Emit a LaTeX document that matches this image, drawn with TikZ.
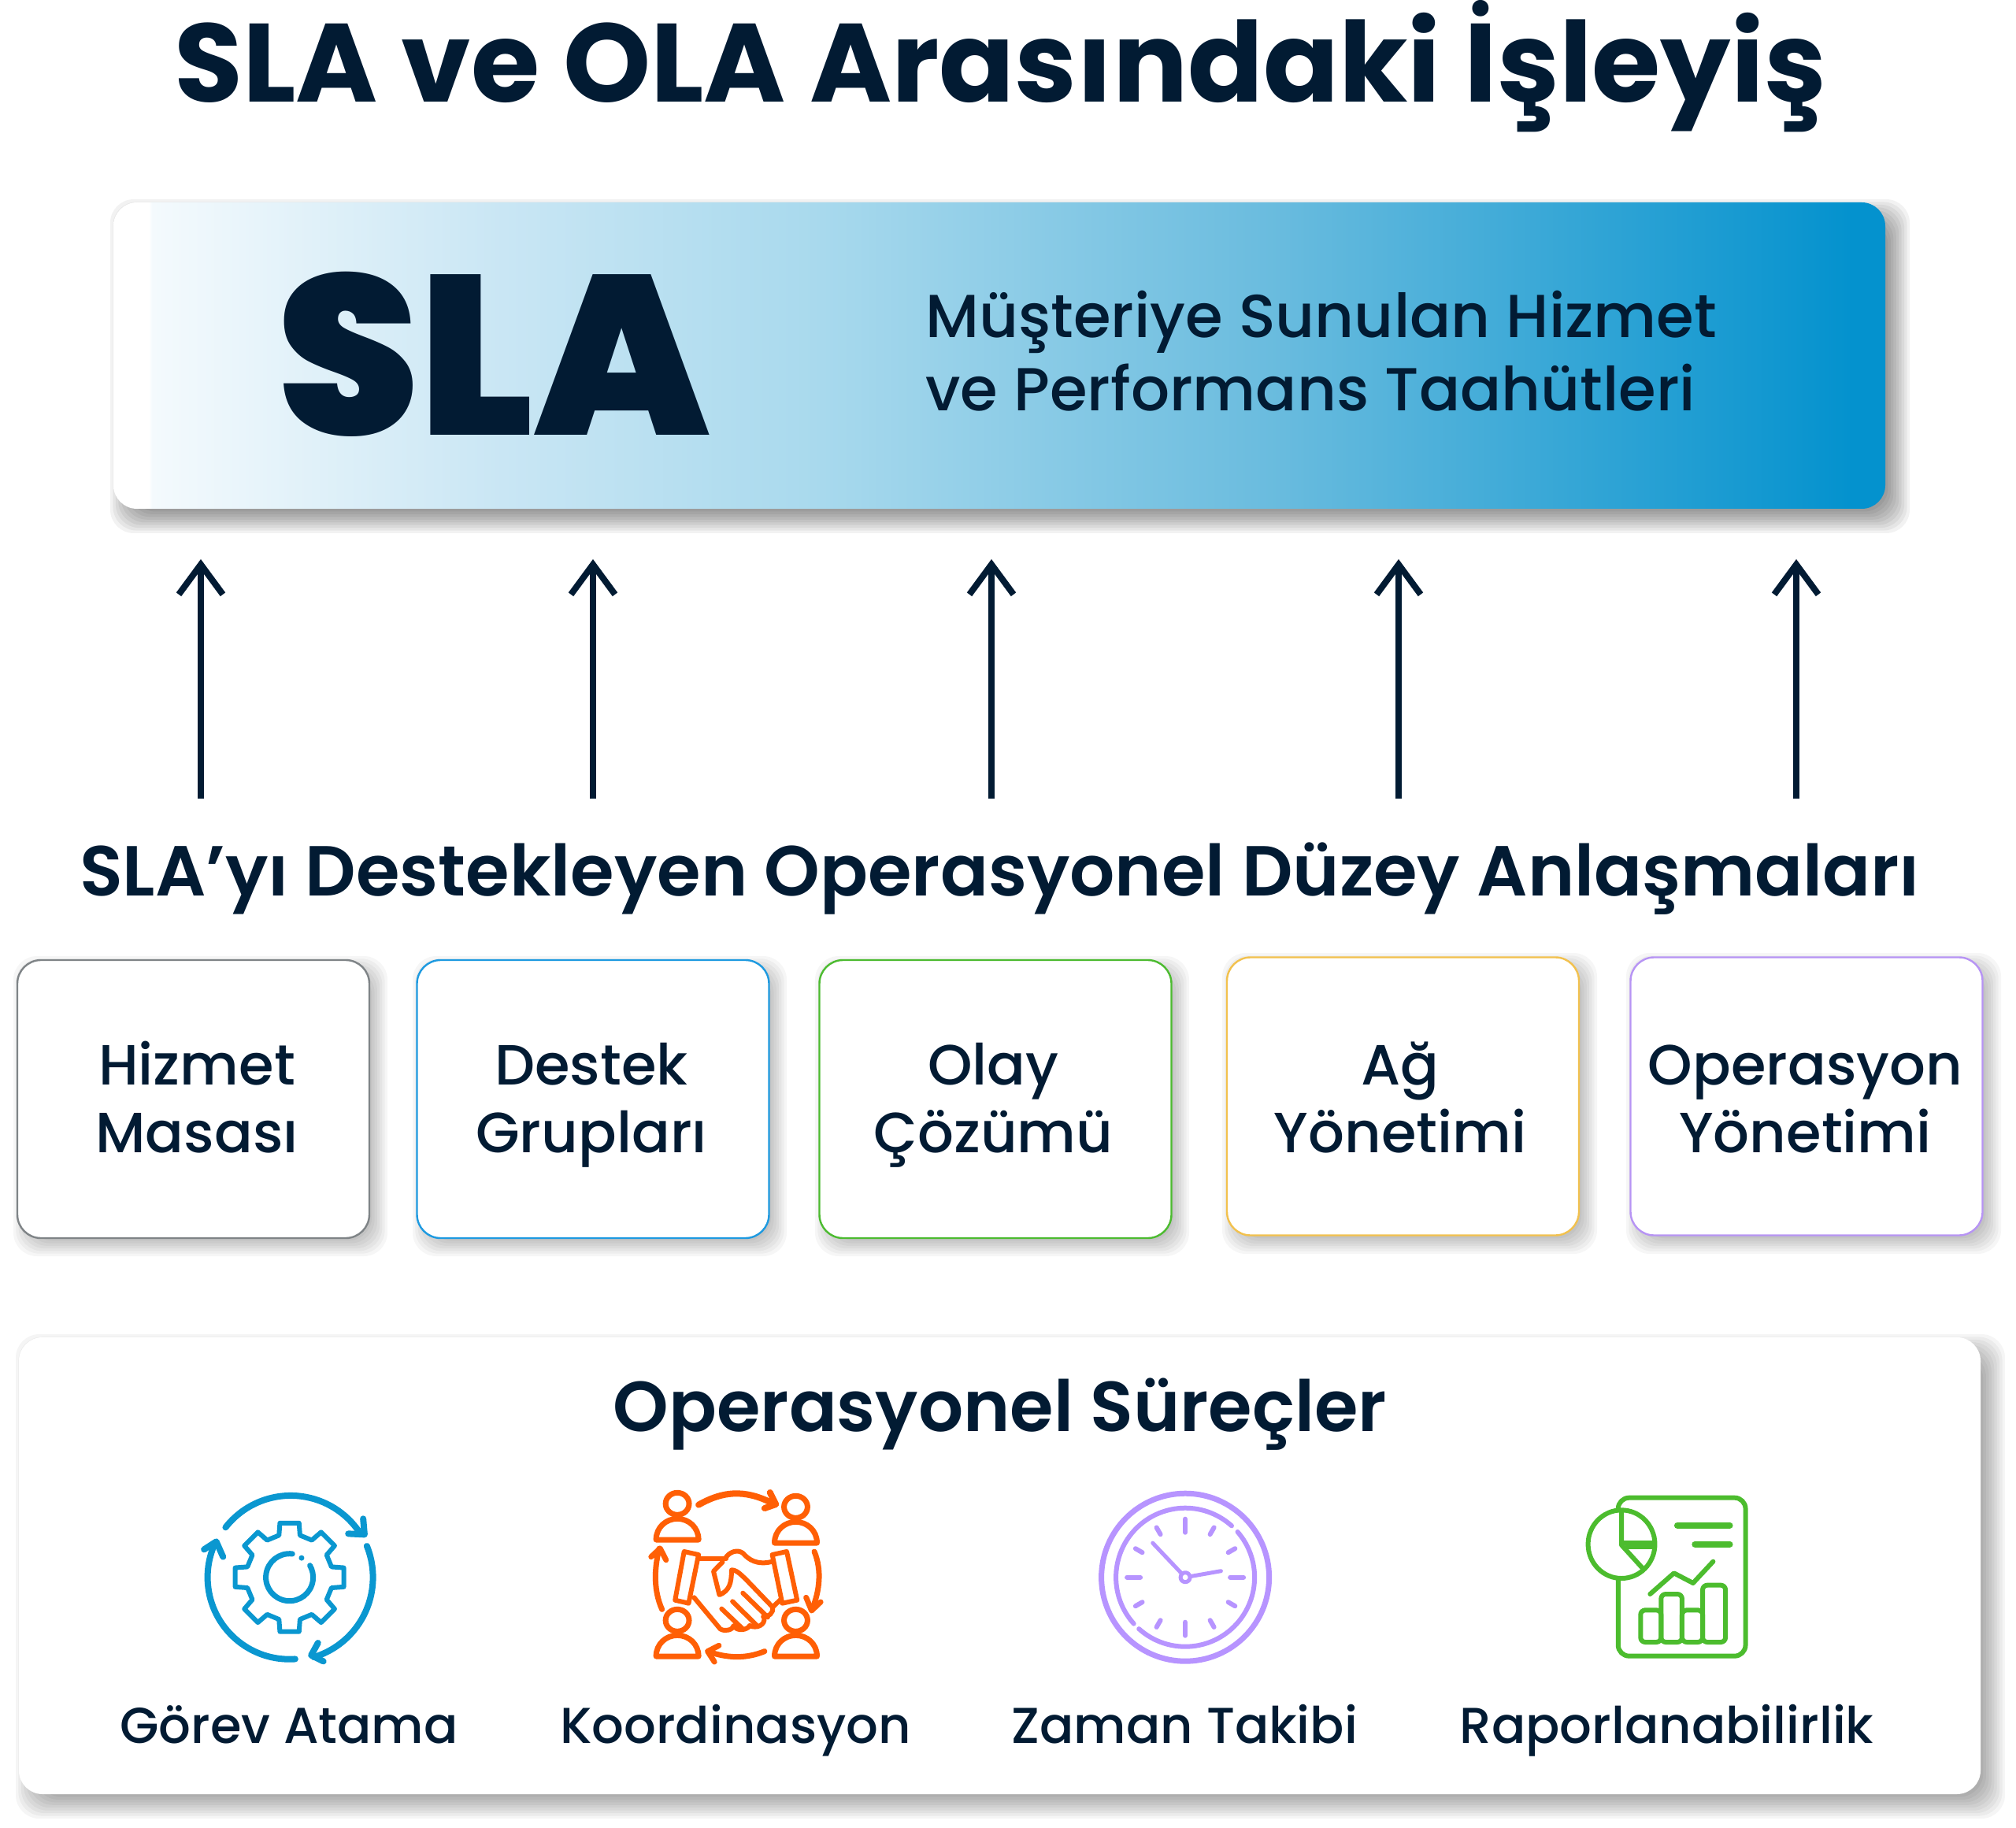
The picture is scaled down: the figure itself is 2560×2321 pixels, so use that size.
\documentclass[tikz,border=0pt]{standalone}
\usepackage{fontspec}
\setmainfont{Poppins}
\newfontfamily\pmed{Poppins Medium}
\newfontfamily\psemi{Poppins SemiBold}
\newfontfamily\pblack{Poppins Black}
\usetikzlibrary{arrows.meta}
\definecolor{navy}{HTML}{021B33}
\definecolor{icoblue}{HTML}{0A97D0}
\definecolor{icoorange}{HTML}{FF5F05}
\definecolor{icopurple}{HTML}{B794FF}
\definecolor{icogreen}{HTML}{4CBC2E}
\definecolor{bgray}{HTML}{7F8487}
\definecolor{bblue}{HTML}{1E9AE0}
\definecolor{bgreen}{HTML}{4CBB30}
\definecolor{byellow}{HTML}{F2C14E}
\definecolor{bpurple}{HTML}{B794F4}
\definecolor{ga}{HTML}{F4FAFD}
\definecolor{gb}{HTML}{C9E6F4}
\definecolor{gc}{HTML}{A8D9ED}
\definecolor{gd}{HTML}{68BBDE}
\definecolor{ge}{HTML}{0492CE}
\pgfdeclarehorizontalshading{slagrad}{100bp}{
 color(0bp)=(white);
 color(26bp)=(white);
 color(26.1bp)=(ga);
 color(36bp)=(gb);
 color(45bp)=(gc);
 color(58bp)=(gd);
 color(74bp)=(ge);
 color(100bp)=(ge)}
% left, top, right, bottom (y negative), radius, offset, spread, layers, opacity
\newcommand{\softshadow}[9]{%
 \foreach \k in {1,...,#8}{%
  \pgfmathsetmacro{\ee}{#7-(\k-1)*(#7+#6)/(#8-1)}%
  \fill[black,opacity=#9,rounded corners=#5*0.5pt]
   ({#1+#6-\ee},{#2-#6+\ee}) rectangle ({#3+#6+\ee},{#4-#6-\ee});
 }}
\tikzset{
 x=0.5pt,y=0.5pt,
 box/.style={draw=#1,line width=1.2pt,fill=white,rounded corners=15pt,minimum width=223.5pt,minimum height=176.5pt,inner sep=0pt},
 boxtext/.style={font=\pmed\fontsize{36}{43}\selectfont,text=navy,align=center,inner sep=0pt,anchor=base},
 uparrow/.style={draw=navy,line width=4pt,-{Straight Barb[length=19pt,width=28pt,line width=4pt]}},
 captiontext/.style={font=\pmed\fontsize{32}{38}\selectfont,text=navy,inner sep=0pt,anchor=base},
 icon/.style={line width=#1,line cap=round,line join=round},
 icon/.default=3.5pt
}
\begin{document}
\begin{tikzpicture}
\useasboundingbox[fill=white] (0,0) rectangle (2560,-2321);
% title
\node[font=\bfseries\fontsize{70.7}{80}\selectfont,text=navy,inner sep=0pt,anchor=base] (title) at (1270,-130) {SLA ve OLA Arasındaki İşleyiş};
% SLA banner
\softshadow{144}{-257}{2394}{-646}{30}{13.5}{17.5}{10}{0.05}
\node[rounded corners=15pt,shading=slagrad,minimum width=1125pt,minimum height=194.5pt,inner sep=0pt] (sla) at (1269,-451.5) {};
\node[font=\pblack\fontsize{144}{150}\selectfont,text=navy,inner sep=0pt,anchor=base] (slaword) at (627,-553) {SLA};
\node[font=\pmed\fontsize{38.55}{46.5}\selectfont,text=navy,inner sep=0pt,align=left,anchor=west] (slatext) at (1175,-446) {Müşteriye Sunulan Hizmet\\ve Performans Taahütleri};
% arrows
\foreach \n/\xx in {1/255,2/753,3/1259,4/1776,5/2281}{
 \coordinate (from\n) at (\xx,-1014);
 \coordinate (to\n) at (\xx,-710);
 \draw[uparrow] (from\n) -- (to\n);
}
% heading
\node[font=\psemi\fontsize{44.95}{50}\selectfont,text=navy,inner sep=0pt,anchor=base] (head) at (1269.5,-1137) {SLA’yı Destekleyen Operasyonel Düzey Anlaşmaları};
% boxes
\softshadow{22}{-1219}{469}{-1572}{30}{9}{14}{8}{0.035}
\softshadow{529}{-1219}{976}{-1572}{30}{9}{14}{8}{0.035}
\softshadow{1040}{-1219}{1487}{-1572}{30}{9}{14}{8}{0.035}
\softshadow{1557}{-1215}{2005}{-1569}{30}{9}{14}{8}{0.035}
\softshadow{2070}{-1215}{2518}{-1569}{30}{9}{14}{8}{0.035}
\node[box=bgray] (b1) at (245.5,-1395.5) {};
\node[box=bblue] (b2) at (753,-1395.5) {};
\node[box=bgreen] (b3) at (1264,-1395.5) {};
\node[box=byellow] (b4) at (1781.5,-1392) {};
\node[box=bpurple] (b5) at (2294,-1392) {};
\node[boxtext] (t1) at (250,-1463) {Hizmet\\Masası};
\node[boxtext] (t2) at (751,-1463) {Destek\\Grupları};
\node[boxtext] (t3) at (1261.5,-1463) {Olay\\Çözümü};
\node[boxtext] (t4) at (1778,-1463) {Ağ\\Yönetimi};
\node[boxtext] (t5) at (2292.5,-1463) {Operasyon\\Yönetimi};
% panel
\softshadow{24}{-1698}{2515}{-2278}{30}{13.5}{17.5}{10}{0.04}
\node[fill=white,rounded corners=15pt,minimum width=1245.5pt,minimum height=290pt,inner sep=0pt] (panel) at (1269.5,-1988) {};
\node[font=\psemi\fontsize{44.9}{50}\selectfont,text=navy,inner sep=0pt,anchor=base] (ptitle) at (1270,-1817) {Operasyonel Süreçler};
\node[captiontext] (c1) at (367,-2213) {Görev Atama};
\node[captiontext] (c2) at (934,-2213) {Koordinasyon};
\node[captiontext] (c3) at (1504.5,-2213) {Zaman Takibi};
\node[captiontext] (c4) at (2116.5,-2213) {Raporlanabilirlik};
% gear icon
\begin{scope}[shift={(367.6,-2002.7)},draw=icoblue]
 \draw[icon=4pt] (142:103) arc[start angle=142,end angle=34,radius=105];
 \draw[icon=4pt] (22:106) arc[start angle=22,end angle=-73,radius=106];
 \draw[icon=4pt] (-86:104) arc[start angle=-86,end angle=-205,radius=104];
 \draw[icon=3pt] (-14:55) \foreach \a in {0,45,...,315}{ -- ({\a-14}:55) -- ({\a-10}:70) -- ({\a+10}:70) -- ({\a+14}:55)} -- cycle;
 \draw[icon=3.5pt] (83:30) arc[start angle=83,end angle=390,radius=30];
 \fill[icoblue] (58:29) circle[radius=3.5];
\end{scope}
\begin{scope}[shift={(200,-1860)},x=0.287pt,y=-0.16667pt,draw=icoblue]
 \draw[icon=4pt] (455,205) -- (458,265) -- (422,262);
 \draw[icon=4pt] (355,678) -- (340,725) -- (367,748);
 \draw[icon=4pt] (103,322) -- (130,292) -- (145,350);
\end{scope}
% handshake icon
\begin{scope}[shift={(200,-1860)},x=0.287pt,y=-0.16667pt,draw=icoorange]
 \foreach \cx/\cy in {1150/148,1412/160,1150/592,1412/592}{
  \begin{scope}[shift={(\cx,\cy)}]
   \draw[icon=3.5pt] (0,0) circle[x radius=26,y radius=42];
   \draw[icon=3.5pt] (-47,137) .. controls (-47,90) and (-25,57) .. (0,57) .. controls (25,57) and (47,90) .. (47,137) -- cycle;
  \end{scope}
 }
 \draw[icon=4pt] (1197,152) .. controls (1260,90) and (1310,100) .. (1365,150);
 \draw[icon=4pt] (1355,105) -- (1368,150) -- (1343,165);
 \draw[icon=3.5pt] (1453,330) .. controls (1470,400) and (1465,480) .. (1448,550);
 \draw[icon=3.5pt] (1435,505) -- (1447,555) -- (1467,522);
 \draw[icon=3.5pt] (1343,710) .. controls (1300,740) and (1260,735) .. (1220,712);
 \draw[icon=3.5pt] (1242,688) -- (1217,710) -- (1232,750);
 \draw[icon=3.5pt] (1116,550) .. controls (1098,480) and (1098,400) .. (1110,318);
 \draw[icon=3.5pt] (1092,350) -- (1112,318) -- (1125,362);
 \draw[icon=3pt] (1165,330) -- (1197,342) -- (1175,527) -- (1145,515) -- cycle;
 \draw[icon=3pt] (1392,330) -- (1360,342) -- (1382,527) -- (1415,515) -- cycle;
 \draw[icon=3pt] (1197,357) -- (1258,357);
 \draw[icon=3pt] (1258,350) .. controls (1270,325) and (1290,320) .. (1300,345) .. controls (1315,370) and (1335,380) .. (1360,368);
 \draw[icon=3pt] (1250,370) -- (1230,405) -- (1243,495) .. controls (1265,480) and (1270,450) .. (1270,400) .. controls (1285,400) and (1295,425) .. (1360,540) .. controls (1365,565) and (1350,580) .. (1340,578);
 \draw[icon=3pt] (1187,505) -- (1245,625) .. controls (1255,635) and (1272,630) .. (1275,612) .. controls (1280,635) and (1305,630) .. (1310,612) .. controls (1325,625) and (1345,610) .. (1342,582);
 \draw[icon=3pt] (1362,540) -- (1380,510);
 \draw[icon=3pt] (1248,548) -- (1295,625);
 \draw[icon=3pt] (1272,520) -- (1325,610);
 \draw[icon=3pt] (1295,488) -- (1350,580);
\end{scope}
% clock icon
\begin{scope}[shift={(1505.1,-2002.7)},draw=icopurple]
 \draw[icon=3.5pt] (0,0) circle[radius=106.5];
 \draw[icon=3pt] (48:88) arc[start angle=48,end angle=222,radius=88];
 \draw[icon=3pt] (228:88) arc[start angle=228,end angle=401,radius=88];
 \foreach \a in {0,90,180,270}{\draw[icon=3pt] (\a:57) -- (\a:74);}
 \foreach \a in {30,60,120,150,210,240,300,330}{\draw[icon=3pt] (\a:63) -- (\a:73);}
 \draw[icon=2.5pt] (133.5:8) -- (133.5:60);
 \draw[icon=2.5pt] (10:8) -- (10:46);
 \draw[icon=2.5pt] (0,0) circle[radius=6];
\end{scope}
% report icon
\begin{scope}[shift={(1350,-1860)},x=0.303pt,y=-0.16667pt,draw=icogreen]
 \draw[icon=3pt,rounded corners=7pt] (1163,160) -- (1163,125) -- (1430,125) -- (1430,728) -- (1163,728) -- (1163,440);
 \draw[icon=3pt] (1170,302) circle[x radius=70,y radius=130];
 \draw[icon=3pt] (1170,180) -- (1170,305) -- (1215,395);
 \draw[icon=3pt] (1175,297) -- (1238,297);
 \draw[icon=3pt] (1182,312) -- (1238,312);
 \draw[icon=4pt] (1287,230) -- (1397,230);
 \draw[icon=4pt] (1324,302) -- (1397,302);
 \draw[icon=3pt] (1230,492) -- (1280,412) -- (1320,450) -- (1362,368);
 \draw[icon=3pt,rounded corners=3pt] (1210,675) -- (1210,553) -- (1253,553) -- (1253,675) -- cycle;
 \draw[icon=3pt,rounded corners=3pt] (1253,675) -- (1253,492) -- (1297,492) -- (1297,675) -- cycle;
 \draw[icon=3pt,rounded corners=3pt] (1297,675) -- (1297,553) -- (1340,553) -- (1340,675) -- cycle;
 \draw[icon=3pt,rounded corners=3pt] (1340,675) -- (1340,458) -- (1388,458) -- (1388,675) -- cycle;
\end{scope}
\end{tikzpicture}
\end{document}
